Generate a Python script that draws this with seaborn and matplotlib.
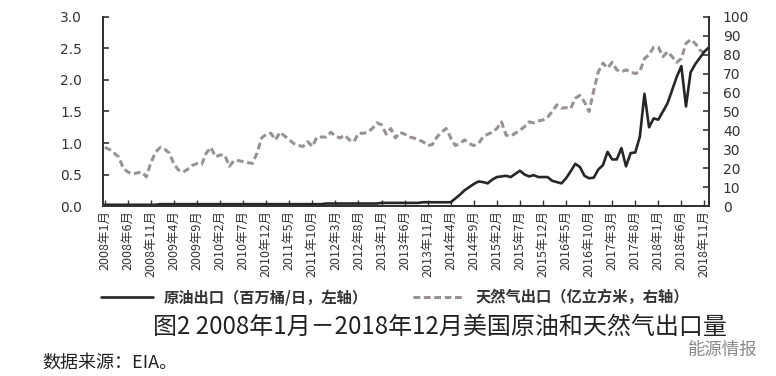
import numpy as np
import pandas as pd
import seaborn as sns
import matplotlib.pyplot as plt

# monthly values, 2008-01 .. 2018-12 (132 months)
crude = ([0.02] * 12 + [0.03] * 36 + [0.04] * 12 + [0.05] * 9 + [0.06] * 7 +
         [0.12, 0.18, 0.25, 0.30, 0.35, 0.39, 0.38, 0.36, 0.42, 0.46, 0.47, 0.48,
          0.46, 0.51, 0.56, 0.50, 0.47, 0.49, 0.46, 0.46, 0.46, 0.40, 0.38, 0.36,
          0.44, 0.55, 0.67, 0.62, 0.48, 0.44, 0.45, 0.58, 0.65, 0.86, 0.74, 0.74,
          0.92, 0.63, 0.84, 0.85, 1.10, 1.78, 1.25, 1.39, 1.37, 1.50, 1.63, 1.84,
          2.05, 2.22, 1.58, 2.12, 2.25, 2.35, 2.45, 2.52])

gas = [31, 30, 28, 26, 20, 18, 17, 17.5, 18, 15.5, 23, 28.5,
       31, 30, 28, 22, 19, 18, 19.5, 21.5, 22.5, 22, 28, 31,
       26, 27, 27, 21, 24, 24, 23.5, 23, 22.5, 28, 36, 38,
       38.5, 35, 39, 37, 35, 33, 32, 31.5, 34, 31.5, 36.5, 36.5,
       36.5, 39, 37, 36, 37.5, 35, 34, 38.5, 38.5, 39, 41, 44,
       43, 38, 41, 36, 39, 38, 36.5, 36, 35, 34, 32, 32.5,
       36.5, 39, 41, 36, 32, 33, 35, 33, 32, 33, 36.5, 38,
       39, 41, 44.5, 37.5, 37, 38.5, 40, 42, 44.5, 44, 45, 45.5,
       47, 50, 53.5, 51.8, 52, 51.5, 57, 58.5, 55, 50, 61, 71,
       75.6, 73, 76, 72, 71, 72, 71, 70, 71, 78, 80, 84,
       84, 79, 81.6, 79, 76, 78, 86, 88, 86, 82.5, 81, 80]

tick_labels = ["2008年1月", "2008年6月", "2008年11月", "2009年4月", "2009年9月",
               "2010年2月", "2010年7月", "2010年12月", "2011年5月", "2011年10月",
               "2012年3月", "2012年8月", "2013年1月", "2013年6月", "2013年11月",
               "2014年4月", "2014年9月", "2015年2月", "2015年7月", "2015年12月",
               "2016年5月", "2016年10月", "2017年3月", "2017年8月", "2018年1月",
               "2018年6月", "2018年11月"]

df = pd.DataFrame({"month": np.arange(len(crude)), "crude": crude, "gas": gas})

sns.set_style("ticks")
plt.rcParams['font.family'] = ['Noto Sans CJK SC', 'DejaVu Sans']

fig = plt.figure(figsize=(7.76, 3.76), dpi=100)
ax = fig.add_axes([0.1327, 0.452, 0.781, 0.503])
ax2 = ax.twinx()

sns.lineplot(data=df, x="month", y="gas", ax=ax2, color="#9a9292", lw=2.2,
             linestyle=(0, (2.2, 1.2)), label="天然气出口（亿立方米，右轴）",
             legend=False)
sns.lineplot(data=df, x="month", y="crude", ax=ax, color="#262626", lw=1.9,
             label="原油出口（百万桶/日，左轴）", legend=False)

ax.set_zorder(ax2.get_zorder() + 1)
ax.patch.set_visible(False)

ax.set_xlim(-0.4, 131)
ax.set_ylim(0, 3.0)
ax2.set_ylim(0, 100)
ax.set_yticks(np.arange(0, 3.01, 0.5))
ax.set_yticklabels([f"{v:.1f}" for v in np.arange(0, 3.01, 0.5)], family="DejaVu Sans")
ax2.set_yticks(np.arange(0, 101, 10))
ax2.set_yticklabels([str(v) for v in range(0, 101, 10)], family="DejaVu Sans")
ax.set_xticks(np.arange(0, 131, 5))
ax.set_xticklabels(tick_labels, rotation=90, va="top", ha="center", fontsize=9)
ax.set_xlabel("")
ax.set_ylabel("")
ax2.set_ylabel("")

for a in (ax, ax2):
    a.spines["top"].set_visible(False)
    for s in ("left", "right", "bottom"):
        a.spines[s].set_linewidth(1.4)
        a.spines[s].set_color("#333333")
ax.tick_params(axis="y", direction="in", length=4, width=1.2, pad=15,
               labelsize=10, colors="#333333")
ax2.tick_params(axis="y", direction="in", length=4, width=1.2, pad=10,
                labelsize=10, colors="#333333")
ax.tick_params(axis="x", direction="in", length=4, width=1.0, pad=3,
               colors="#333333")

h1, l1 = ax.get_legend_handles_labels()
h2, l2 = ax2.get_legend_handles_labels()
fig.legend(h1 + h2, l1 + l2, loc="center", bbox_to_anchor=(0.509, 0.21), ncol=2,
           frameon=False, handlelength=3.4, columnspacing=3.0, handletextpad=0.7,
           prop={"size": 11, "weight": "bold", "family": ["Noto Sans CJK SC"]},
           labelcolor="#333333")

fig.text(0.567, 0.132, "图2 2008年1月－2018年12月美国原油和天然气出口量",
         ha="center", va="center", fontsize=17.3, color="#222222")
fig.text(0.054, 0.035, "数据来源：EIA。", ha="left", va="center",
         fontsize=13, color="#222222")
fig.text(0.976, 0.068, "能源情报", ha="right", va="center", fontsize=12.5,
         color="#8a8a8a")

fig.savefig("out.png", dpi=100)
